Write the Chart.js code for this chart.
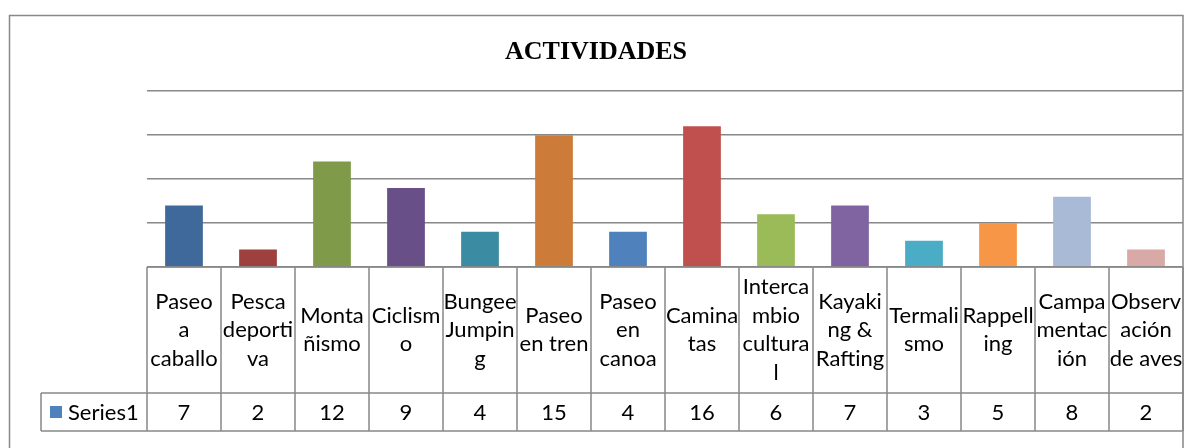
<!DOCTYPE html>
<html>
<head>
<meta charset="utf-8">
<script src="https://cdn.jsdelivr.net/npm/chart.js@4"></script>
<style>
  body { margin: 0; background: #fff; }
  canvas { display: block; }
</style>
</head>
<body>
<canvas id="activitiesChart" width="1184" height="448"></canvas>
<script>
const categories = [
    ['Paseo', 'a', 'caballo'],
    ['Pesca', 'deporti', 'va'],
    ['Monta', 'ñismo'],
    ['Ciclism', 'o'],
    ['Bungee', 'Jumpin', 'g'],
    ['Paseo', 'en tren'],
    ['Paseo', 'en', 'canoa'],
    ['Camina', 'tas'],
    ['Interca', 'mbio', 'cultura', 'l'],
    ['Kayaki', 'ng &', 'Rafting'],
    ['Termali', 'smo'],
    ['Rappell', 'ing'],
    ['Campa', 'mentac', 'ión'],
    ['Observ', 'ación', 'de aves'],
];
const seriesName = 'Series1';
const values = [7, 2, 12, 9, 4, 15, 4, 16, 6, 7, 3, 5, 8, 2];
const barColors = [
    '#40699B', '#9E403E', '#7F9A48', '#684F87', '#3B8CA2', '#CC7B38', '#4F81BD',
    '#C0504D', '#9BBB59', '#8064A2', '#4BACC6', '#F79646', '#A9BAD7', '#D9A9A8',
];
const seriesColor = '#4F81BD';
const chartTitle = 'ACTIVIDADES';

const lineColor = '#888888';
const tableFont = '22px Lato';

// excel style data table under the plot + outer chart border
const dataTablePlugin = {
    id: 'dataTable',
    afterDraw(chart) {
        const ctx = chart.ctx;
        const xScale = chart.scales.x;
        const area = chart.chartArea;
        const step = xScale.getPixelForValue(1) - xScale.getPixelForValue(0);
        const tableTop = area.bottom;
        const rowTop = tableTop + 126;
        const rowBottom = rowTop + 38;
        const keyLeft = 41;

        ctx.save();
        ctx.strokeStyle = lineColor;
        ctx.lineWidth = 1.5;

        ctx.beginPath();
        ctx.moveTo(area.left, tableTop);
        ctx.lineTo(area.right, tableTop);
        ctx.moveTo(keyLeft, rowTop);
        ctx.lineTo(area.right, rowTop);
        ctx.moveTo(keyLeft, rowBottom);
        ctx.lineTo(area.right, rowBottom);
        ctx.moveTo(keyLeft, rowTop);
        ctx.lineTo(keyLeft, rowBottom);
        for (let i = 0; i <= values.length; i++) {
            const x = xScale.getPixelForValue(i) - step / 2;
            ctx.moveTo(x, tableTop);
            ctx.lineTo(x, rowBottom);
        }
        ctx.stroke();

        // series row
        const midY = (rowTop + rowBottom) / 2;
        ctx.fillStyle = seriesColor;
        ctx.fillRect(50, midY - 6, 12, 12);
        ctx.fillStyle = '#000';
        ctx.font = tableFont;
        ctx.textBaseline = 'middle';
        ctx.textAlign = 'left';
        ctx.fillText(seriesName, 68, midY + 1);
        ctx.textAlign = 'center';
        values.forEach((v, i) => {
            ctx.fillText(String(v), xScale.getPixelForValue(i), midY + 1);
        });

        // outer border
        ctx.beginPath();
        ctx.rect(9.5, 15.5, 1173.5, 500);
        ctx.stroke();
        ctx.restore();
    }
};

function createChart() {
    const ctx = document.getElementById('activitiesChart').getContext('2d');

    const chart = new Chart(ctx, {
        type: 'bar',
        data: {
            labels: categories,
            datasets: [{
                label: seriesName,
                data: values,
                backgroundColor: barColors,
                borderWidth: 0,
                barPercentage: 0.51,
                categoryPercentage: 1,
            }]
        },
        options: {
            responsive: false,
            animation: false,
            layout: {
                padding: { left: 9, right: 1, top: 15, bottom: 26.5 }
            },
            scales: {
                x: {
                    grid: { display: false, drawTicks: false },
                    border: { display: false },
                    ticks: {
                        autoSkip: false,
                        maxRotation: 0,
                        minRotation: 0,
                        padding: 20.25,
                        crossAlign: 'center',
                        color: '#000',
                        font: { family: 'Lato', size: 22, lineHeight: 1.2955 },
                    },
                    afterFit: scale => {
                        scale.paddingLeft = 0;
                        scale.paddingRight = 0;
                    },
                },
                y: {
                    min: 0,
                    max: 20,
                    ticks: { stepSize: 5, display: false },
                    grid: { color: lineColor, lineWidth: 1.5, drawTicks: false },
                    border: { display: false },
                    afterFit: scale => { scale.width = 138; },
                },
            },
            plugins: {
                legend: { display: false },
                tooltip: { enabled: false },
                title: {
                    display: true,
                    text: chartTitle,
                    color: '#000',
                    font: { family: 'Liberation Serif', size: 26, weight: 'bold', lineHeight: 1.2 },
                    padding: { top: 22, bottom: 23 },
                },
            }
        },
        plugins: [dataTablePlugin],
    });
}

createChart();
</script>
</body>
</html>
